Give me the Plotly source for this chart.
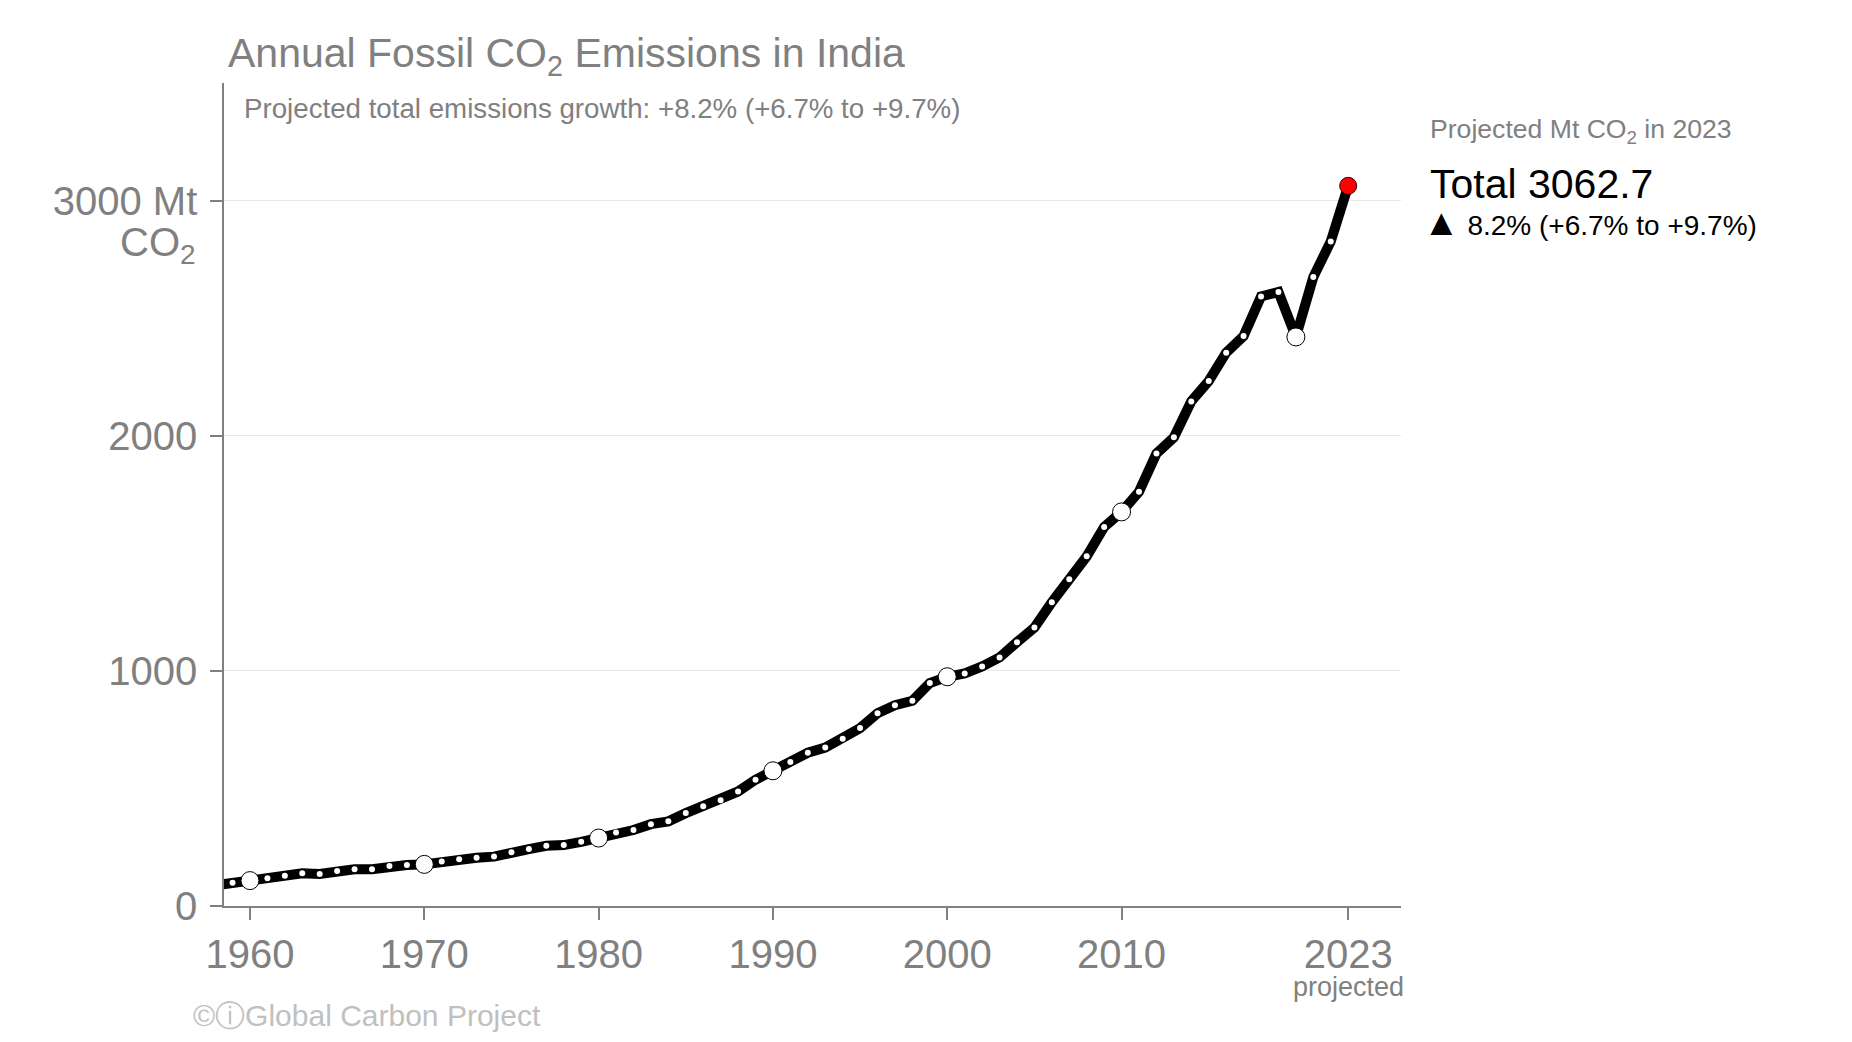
import plotly.graph_objects as go

years = list(range(1958, 2024))
emissions = [88, 99, 108, 118, 129, 139, 136, 149, 156, 156, 170, 174, 177,
             189, 199, 205, 210, 229, 242, 256, 259, 273,
             289, 313, 323, 348, 360, 395, 424, 450, 487, 537,
             575, 612, 652, 674, 711, 757, 820, 854, 873, 948,
             975, 989, 1019, 1057, 1122, 1184, 1292, 1390, 1487, 1612,
             1676, 1762, 1924, 1993, 2146, 2233, 2353, 2424, 2592, 2611,
             2420, 2675, 2826, 3062.7]

x_ticks = [1960, 1970, 1980, 1990, 2000, 2010, 2023]
y_ticks = [0, 1000, 2000, 3000]
y_ticktext = ["0", "1000", "2000", "3000 Mt"]

title = "Annual Fossil CO<sub>2</sub> Emissions in India"
subtitle = "Projected total emissions growth: +8.2% (+6.7% to +9.7%)"
side_head = "Projected Mt CO<sub>2</sub> in 2023"
side_total = "Total 3062.7"
side_growth = "<span style='font-size:37px'>▲</span> 8.2% (+6.7% to +9.7%)"
credit = "©ⓘGlobal Carbon Project"

# page body has an 8px margin, so the figure is drawn 8px in from the corner
OFF = 8
W, H = 1852 - 2 * OFF, 1042 - 2 * OFF
L, T = 224 - OFF, 83 - OFF
R = W - (1401 - OFF)
B = H - (906 - OFF)
PW, PH = W - L - R, H - T - B

FONT = "Liberation Sans, Arial, sans-serif"
GREY = "#808080"


def px_x(px):
    return (px - OFF - L) / PW


def px_y(py):
    return (H - B - (py - OFF)) / PH


big_years = [y for y in years if y % 10 == 0]
big_vals = [v for y, v in zip(years, emissions) if y % 10 == 0]

fig = go.Figure()

fig.add_trace(go.Scatter(
    x=years, y=emissions, mode="lines+markers",
    line=dict(color="black", width=10),
    marker=dict(color="white", size=6, line=dict(width=0)),
    hoverinfo="skip", showlegend=False,
))
fig.add_trace(go.Scatter(
    x=big_years, y=big_vals, mode="markers",
    marker=dict(color="white", size=18, line=dict(color="black", width=1)),
    showlegend=False,
))
fig.add_trace(go.Scatter(
    x=years[-1:], y=emissions[-1:], mode="markers",
    marker=dict(color="#ff0000", size=17, line=dict(color="#400000", width=1)),
    showlegend=False,
))

fig.update_xaxes(range=[1958.51, 2026.03], tickvals=x_ticks,
                 ticks="outside", ticklen=12, tickwidth=1.5, tickcolor=GREY,
                 showline=True, linecolor=GREY, linewidth=1.5,
                 showgrid=False, zeroline=False,
                 tickfont=dict(family=FONT, size=40, color=GREY))
fig.update_yaxes(range=[0, 3500], tickvals=y_ticks, ticktext=y_ticktext,
                 ticks="outside", ticklen=12, tickwidth=1.5, tickcolor=GREY,
                 ticklabelstandoff=5,
                 showline=True, linecolor=GREY, linewidth=1.5,
                 showgrid=True, gridcolor="#e8e8e8", gridwidth=1,
                 zeroline=False,
                 tickfont=dict(family=FONT, size=40, color=GREY))

annotations = [
    dict(text=title, x=px_x(226), y=px_y(56), xanchor="left", yanchor="middle",
         font=dict(size=41, color=GREY)),
    dict(text=subtitle, x=px_x(242), y=px_y(108), xanchor="left", yanchor="middle",
         font=dict(size=27.7, color=GREY)),
    dict(text="CO<sub>2</sub>", x=px_x(198), y=px_y(245), xanchor="right", yanchor="middle",
         font=dict(size=40, color=GREY)),
    dict(text=side_head, x=px_x(1428), y=px_y(131), xanchor="left", yanchor="middle",
         font=dict(size=26.6, color=GREY)),
    dict(text=side_total, x=px_x(1428), y=px_y(184), xanchor="left", yanchor="middle",
         font=dict(size=41, color="black")),
    dict(text=side_growth, x=px_x(1421), y=px_y(222), xanchor="left", yanchor="middle",
         font=dict(size=28, color="black")),
    dict(text="projected", x=px_x(1348), y=px_y(987), xanchor="center", yanchor="middle",
         font=dict(size=27, color=GREY)),
    dict(text=credit, x=px_x(191), y=px_y(1015), xanchor="left", yanchor="middle",
         font=dict(size=30, color="#c0c0c0")),
]
for a in annotations:
    a.update(xref="paper", yref="paper", showarrow=False)
    a["font"]["family"] = FONT

fig.update_layout(
    width=W, height=H, autosize=False,
    margin=dict(l=L, r=R, t=T, b=B, pad=0),
    paper_bgcolor="white", plot_bgcolor="white",
    font=dict(family=FONT),
    annotations=annotations,
)

fig.write_html("out.html")
